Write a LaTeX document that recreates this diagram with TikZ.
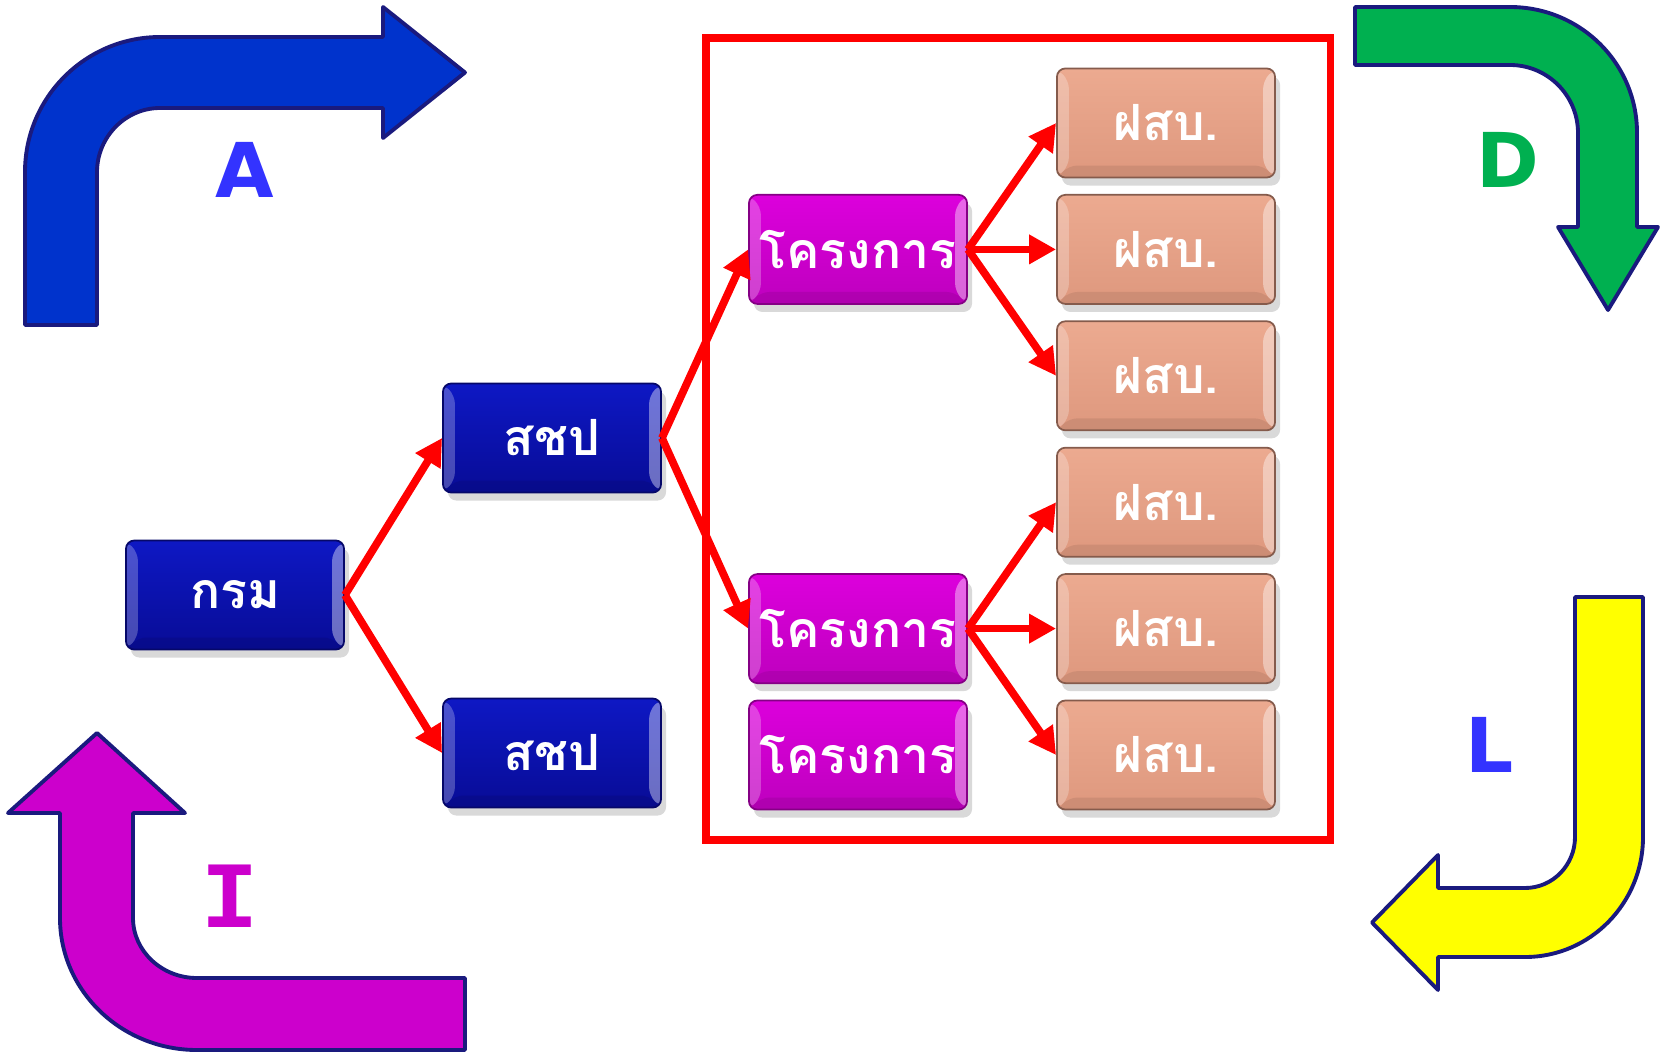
\documentclass[tikz,border=0pt]{standalone}
\usepackage{fontspec}
\newfontfamily\thaifont[Script=Thai]{Loma}
\newfontfamily\letterfont{DejaVu Sans}
\newfontfamily\courierfont{Liberation Mono}
\usetikzlibrary{calc,shadows,arrows.meta}
\definecolor{outlinenavy}{RGB}{26,26,126}
\definecolor{arrowblue}{RGB}{0,51,204}
\definecolor{arrowgreen}{RGB}{0,176,80}
\definecolor{arrowyellow}{RGB}{255,255,0}
\definecolor{arrowmagenta}{RGB}{204,0,204}
\definecolor{letterblue}{RGB}{51,51,255}
\definecolor{dirtop}{RGB}{14,24,196}
\definecolor{dirbot}{RGB}{8,12,150}
\definecolor{projtop}{RGB}{220,0,220}
\definecolor{projbot}{RGB}{190,0,190}
\definecolor{unittop}{RGB}{236,170,144}
\definecolor{unitbot}{RGB}{222,152,126}
\newcommand{\boxwidth}{2.18cm}
\newcommand{\boxheight}{1.09cm}
\newcommand{\kromx}{235}
\newcommand{\schpx}{552}
\newcommand{\projx}{858}
\newcommand{\fsbx}{1166}
\newcommand{\rowone}{123}
\newcommand{\rowstep}{126.4}

\begin{document}
\begin{tikzpicture}[x=0.01cm,y=-0.01cm]
\tikzstyle{box}=[minimum width=\boxwidth,minimum height=\boxheight,inner sep=0pt,rounded corners=2.4pt,
  line width=0.5pt,text=white,font=\thaifont\bfseries\fontsize{14.2}{17}\selectfont,
  drop shadow={shadow xshift=0.5mm,shadow yshift=-0.8mm,opacity=0.3},
  path picture={
    \fill[white,opacity=.25] (path picture bounding box.north west) -- ++(12,12)
      -- ($(path picture bounding box.south west)+(12,-12)$) -- (path picture bounding box.south west) -- cycle;
    \fill[white,opacity=.4] (path picture bounding box.north east) -- ++(-12,12)
      -- ($(path picture bounding box.south east)+(-12,-12)$) -- (path picture bounding box.south east) -- cycle;
    \fill[black,opacity=.08] (path picture bounding box.south west) -- ++(12,-12)
      -- ($(path picture bounding box.south east)+(-12,-12)$) -- (path picture bounding box.south east) -- cycle;}]
\tikzstyle{dirbox}=[box,draw=dirbot!70!black,top color=dirtop,bottom color=dirbot]
\tikzstyle{projbox}=[box,draw=projbot!70!black,top color=projtop,bottom color=projbot]
\tikzstyle{unitbox}=[box,draw=unitbot!60!black,top color=unittop,bottom color=unitbot]
\tikzstyle{link}=[red,line width=2.2pt,-{Triangle[length=0.27cm,width=0.28cm]}]
\tikzstyle{bent}=[draw=outlinenavy,line width=1.1pt,line join=round]
\tikzstyle{letter}=[font=\letterfont\bfseries\fontsize{21.5}{24}\selectfont]

\useasboundingbox (0,0) rectangle (1667,1052);

% bent arrows
\fill[bent,fill=arrowblue] (25,325) -- (25,172) .. controls (25,97.4) and (85.5,37) .. (160,37)
  -- (383,37) -- (383,7) -- (465,72.5) -- (383,138) -- (383,108) -- (160,108)
  .. controls (125.2,108) and (97,137.2) .. (97,172) -- (97,325) -- cycle;
\fill[bent,fill=arrowgreen] (1355,7) -- (1510,7) .. controls (1580,7) and (1637,63) .. (1637,133)
  -- (1637,227) -- (1658,227) -- (1608,310) -- (1558,227) -- (1578,227) -- (1578,133)
  .. controls (1578,95.5) and (1547.5,65) .. (1510,65) -- (1355,65) -- cycle;
\fill[bent,fill=arrowyellow] (1575,597) -- (1643,597) -- (1643,837)
  .. controls (1643,902.7) and (1590.7,957) .. (1525,957) -- (1438,957) -- (1438,990)
  -- (1372,922.5) -- (1438,855) -- (1438,888) -- (1525,888)
  .. controls (1552.9,888) and (1575,864.9) .. (1575,837) -- cycle;
\fill[bent,fill=arrowmagenta] (97,733) -- (185,813) -- (133,813) -- (133,918)
  .. controls (133,951) and (161.7,978) .. (197,978) -- (465,978) -- (465,1050) -- (197,1050)
  .. controls (121.4,1050) and (60,990.9) .. (60,918) -- (60,813) -- (8,813) -- cycle;

\node (A) [letter,text=letterblue] at (245,170) {A};
\node (D) [letter,text=arrowgreen] at (1508,160) {D};
\node (L) [letter,text=letterblue] at (1490,745) {L};
\node (I) [font=\courierfont\bfseries\fontsize{27}{30}\selectfont,text=arrowmagenta] at (230,896) {I};

% frame round the projects
\draw[red,line width=2pt] (706,38) rectangle (1330,840);

\node (krom) [dirbox] at (\kromx,595) {กรม};
\node (schp1) [dirbox] at (\schpx,438) {สชป};
\node (schp2) [dirbox] at (\schpx,753) {สชป};

\node (proj1) [projbox] at (\projx,\rowone+\rowstep) {โครงการ};
\node (proj2) [projbox] at (\projx,\rowone+4*\rowstep) {โครงการ};
\node (proj3) [projbox] at (\projx,\rowone+5*\rowstep) {โครงการ};

\node (fsb1) [unitbox] at (\fsbx,\rowone) {ฝสบ.};
\node (fsb2) [unitbox] at (\fsbx,\rowone+\rowstep) {ฝสบ.};
\node (fsb3) [unitbox] at (\fsbx,\rowone+2*\rowstep) {ฝสบ.};
\node (fsb4) [unitbox] at (\fsbx,\rowone+3*\rowstep) {ฝสบ.};
\node (fsb5) [unitbox] at (\fsbx,\rowone+4*\rowstep) {ฝสบ.};
\node (fsb6) [unitbox] at (\fsbx,\rowone+5*\rowstep) {ฝสบ.};

\draw[link] (krom.east) -- (schp1.west);
\draw[link] (krom.east) -- (schp2.west);
\draw[link] (schp1.east) -- (proj1.west);
\draw[link] (schp1.east) -- (proj2.west);
\draw[link] (proj1.east) -- (fsb1.west);
\draw[link] (proj1.east) -- (fsb2.west);
\draw[link] (proj1.east) -- (fsb3.west);
\draw[link] (proj2.east) -- (fsb4.west);
\draw[link] (proj2.east) -- (fsb5.west);
\draw[link] (proj2.east) -- (fsb6.west);

\end{tikzpicture}
\end{document}
